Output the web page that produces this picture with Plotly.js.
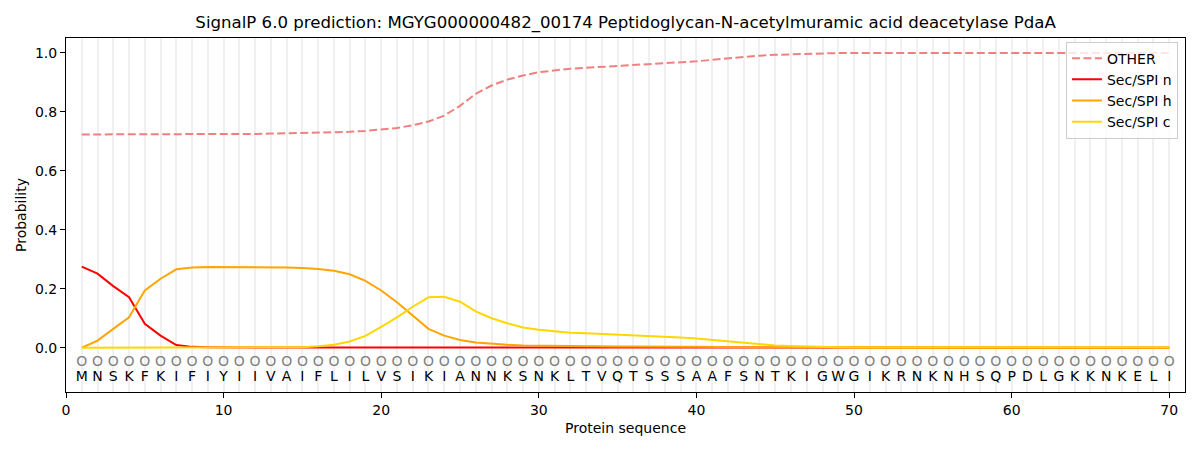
<!DOCTYPE html>
<html>
<head>
<meta charset="utf-8">
<script src="https://cdn.plot.ly/plotly-3.0.1.min.js"></script>
<style>
  html, body { margin: 0; padding: 0; background: #fff; }
  #chart { width: 1200px; height: 450px; }
</style>
</head>
<body>
<div id="chart"></div>
<script>
// residues of the protein, one per position 1..70
var residues = ['M','N','S','K','F','K','I','F','I','Y','I','I','V','A','I','F','L','I','L','V',
	'S','I','K','I','A','N','N','K','S','N','K','L','T','V','Q','T','S','S','S','A',
	'A','F','S','N','T','K','I','G','W','G','I','K','R','N','K','N','H','S','Q','P',
	'D','L','G','K','K','N','K','E','L','I'];

// per-residue probabilities
var probOther = [0.723,0.723,0.723,0.723,0.723,0.723,0.724,0.724,0.724,0.724,
	0.725,0.725,0.726,0.727,0.728,0.729,0.730,0.732,0.735,0.739,
	0.745,0.754,0.767,0.787,0.820,0.861,0.889,0.909,0.923,0.934,
	0.941,0.946,0.949,0.952,0.955,0.958,0.961,0.964,0.967,0.971,
	0.976,0.981,0.986,0.990,0.993,0.995,0.997,0.998,0.999,0.999,
	0.999,0.999,0.999,0.999,0.999,0.999,0.999,0.999,0.999,0.999,
	0.999,0.999,0.999,0.999,0.999,0.999,0.999,0.999,0.999,0.999];
var probN = [0.275,0.251,0.209,0.171,0.081,0.041,0.009,0.003,0.002,0.001,
	0.001,0.001,0.001,0.001,0.001,0.001,0.001,0.001,0.001,0.001,
	0,0,0,0,0,0,0,0,0,0, 0,0,0,0,0,0,0,0,0,0,
	0,0,0,0,0,0,0,0,0,0, 0,0,0,0,0,0,0,0,0,0,
	0,0,0,0,0,0,0,0,0,0];
var probH = [0.000,0.024,0.064,0.103,0.194,0.234,0.266,0.272,0.274,0.274,
	0.274,0.274,0.273,0.272,0.270,0.267,0.261,0.249,0.227,0.194,
	0.154,0.109,0.064,0.041,0.026,0.018,0.013,0.010,0.008,0.007,
	0.006,0.005,0.005,0.004,0.004,0.004,0.003,0.003,0.003,0.003,
	0.002,0.002,0.002,0.002,0.002,0.002,0.001,0.001,0.001,0.001,
	0.001,0.001,0.001,0.001,0.001,0.001,0.001,0.001,0.001,0.001,
	0.001,0.001,0.001,0.001,0.001,0.001,0.001,0.001,0.001,0.001];
var probC = [0,0,0,0,0,0,0,0,0,0,
	0,0,0.001,0.001,0.002,0.005,0.010,0.021,0.040,0.071,
	0.103,0.139,0.171,0.173,0.156,0.123,0.100,0.083,0.069,0.061,
	0.055,0.051,0.049,0.047,0.045,0.043,0.041,0.038,0.035,0.031,
	0.026,0.021,0.016,0.011,0.008,0.006,0.004,0.003,0.002,0.001,
	0.001,0.001,0.001,0.001,0.001,0.001,0.001,0.001,0.001,0.001,
	0.001,0.001,0.001,0.001,0.001,0.001,0.001,0.001,0.001,0.001];

var positions = residues.map(function(r, i){ return i + 1; });
var circleRow = residues.map(function(){ return -0.05; });
var letterRow = residues.map(function(){ return -0.1; });
var circles = residues.map(function(){ return 'O'; });

var font = 'DejaVu Sans, sans-serif';

var lineTrace = function(name, y, color, dash){
	return {
		x: positions, y: y, name: name, type: 'scatter', mode: 'lines',
		line: {color: color, width: 2, dash: dash || 'solid'},
		hoverinfo: 'skip'
	};
};

var data = [
	{x: positions, y: circleRow, text: circles, type: 'scatter', mode: 'text',
		textfont: {family: font, size: 14, color: '#808080'}, showlegend: false, hoverinfo: 'skip'},
	{x: positions, y: letterRow, text: residues, type: 'scatter', mode: 'text',
		textfont: {family: font, size: 14, color: '#000000'}, showlegend: false, hoverinfo: 'skip'},
	lineTrace('OTHER', probOther, 'rgba(240,128,128,1)', '8px,3.5px'),
	lineTrace('Sec/SPI n', probN, '#ff0000'),
	lineTrace('Sec/SPI h', probH, '#ffa500'),
	lineTrace('Sec/SPI c', probC, '#ffd700')
];

var layout = {
	width: 1200, height: 450,
	margin: {l: 66, r: 15, t: 38, b: 58},
	paper_bgcolor: '#ffffff', plot_bgcolor: '#ffffff',
	font: {family: font, size: 14, color: '#000'},
	title: {
		text: 'SignalP 6.0 prediction: MGYG000000482_00174 Peptidoglycan-N-acetylmuramic acid deacetylase PdaA',
		font: {family: font, size: 16.6, color: '#000'},
		x: 0.5213, xanchor: 'center', y: 0.951, yanchor: 'middle', yref: 'container'
	},
	xaxis: {
		range: [0, 71], tick0: 0, dtick: 10, ticks: 'outside', ticklen: 5, tickcolor: '#000',
		showline: true, mirror: true, linecolor: '#000', linewidth: 1, zeroline: false,
		showgrid: true, gridcolor: '#f0f0f0', gridwidth: 2,
		minor: {tick0: 0, dtick: 1, showgrid: true, gridcolor: '#f0f0f0', gridwidth: 2, ticklen: 0},
		tickfont: {family: font, size: 14},
		title: {text: 'Protein sequence', font: {family: font, size: 14}, standoff: 6}
	},
	yaxis: {
		range: [-0.15, 1.05], tick0: 0, dtick: 0.2, tickformat: '.1f',
		ticks: 'outside', ticklen: 5, tickcolor: '#000',
		showline: true, mirror: true, linecolor: '#000', linewidth: 1,
		showgrid: false, zeroline: false,
		tickfont: {family: font, size: 14},
		title: {text: 'Probability', font: {family: font, size: 14}, standoff: 5}
	},
	legend: {
		x: 0.9937, xanchor: 'right', y: 0.99, yanchor: 'top',
		bgcolor: 'rgba(255,255,255,0.8)', bordercolor: '#cccccc', borderwidth: 1,
		font: {family: font, size: 14}, tracegroupgap: 0
	},
	showlegend: true
};

Plotly.newPlot('chart', data, layout, {displayModeBar: false, staticPlot: true});
</script>
</body>
</html>
